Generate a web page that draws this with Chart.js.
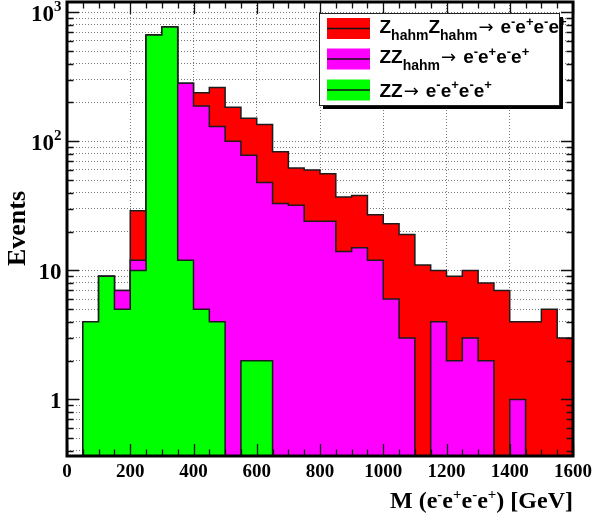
<!DOCTYPE html>
<html>
<head>
<meta charset="utf-8">
<script src="https://cdn.jsdelivr.net/npm/chart.js@4.4.1/dist/chart.umd.min.js"></script>
<style>
  html, body { margin: 0; padding: 0; background: #fff; }
  #wrap { width: 592px; height: 520px; }
</style>
</head>
<body>
<div id="wrap"><canvas id="cv" width="592" height="520"></canvas></div>
<script>
/***** data *****/
// 4-electron invariant mass, 50 GeV bins from 0 to 1600
const BIN_LOW = [
  0, 50, 100, 150, 200, 250, 300, 350, 400, 450, 500, 550, 600, 650, 700, 750,
  800, 850, 900, 950, 1000, 1050, 1100, 1150, 1200, 1250, 1300, 1350, 1400, 1450, 1500, 1550
];
const BIN_WIDTH = 50;

// events per bin, one array per process (stacked bottom -> top: zz, zzHahm, zhahmZhahm)
const zzCounts = [
  0, 4, 9, 5, 10, 667, 769, 12, 5, 4, 0, 2, 2, 0, 0, 0,
  0, 0, 0, 0, 0, 0, 0, 0, 0, 0, 0, 0, 0, 0, 0, 0
];
const zzHahmCounts = [
  0, 0, 0, 2, 2, 0, 0, 270, 183, 126, 100, 76, 46, 33, 32, 24,
  24, 14, 15, 12, 6, 3, 0, 4, 2, 3, 2, 0, 1, 0, 0, 0
];
const zhahmZhahmCounts = [
  0, 0, 0, 0, 17, 0, 0, 0, 50, 131, 84, 73, 87, 50, 30, 36,
  32, 23, 23, 15, 17, 16, 11, 6, 7, 7, 6, 7, 3, 4, 5, 3
];

const X_TICKS = [0, 200, 400, 600, 800, 1000, 1200, 1400, 1600];
const Y_DECADES = [1, 10, 100, 1000];
const Y_LABELS = [
  { base: "1" }, { base: "10" }, { base: "10", exp: "2" }, { base: "10", exp: "3" }
];
const Y_MIN = 0.365, Y_MAX = 1200;

const LEGEND_LABELS = [
  { color: "#ff0000", runs: [["Z"], ["hahm", "sub"], ["Z"], ["hahm", "sub"]] },
  { color: "#ff00ff", runs: [["ZZ"], ["hahm", "sub"]] },
  { color: "#00ff00", runs: [["ZZ"]] }
];

/***** helpers *****/
const SERIF = '"Liberation Serif", "Times New Roman", serif';
const SANS = '"Liberation Sans", Arial, sans-serif';
const FLOOR = 1e-3; // empty bins drop below the axis

function stepPoints(counts){
  const pts = BIN_LOW.map((x, i) => ({ x, y: counts[i] > 0 ? counts[i] : FLOOR }));
  pts.push({ x: BIN_LOW[BIN_LOW.length - 1] + BIN_WIDTH, y: pts[pts.length - 1].y });
  return pts;
}

// THStack style: each layer is drawn as the running sum
const stackZZ = zzCounts.slice();
const stackZZHahm = stackZZ.map((v, i) => v + zzHahmCounts[i]);
const stackAll = stackZZHahm.map((v, i) => v + zhahmZhahmCounts[i]);

// minor + major positions for the log axis
const yGrid = [];
Y_DECADES.concat([0.1]).sort((a, b) => a - b).forEach(d => {
  for (let k = 1; k <= 9; k++){
    const v = +(d * k).toPrecision(3);
    if (v >= Y_MIN && v <= Y_MAX) yGrid.push(v);
  }
});

// draw a list of [text, font, dy] pieces from x; returns the end x
function drawRuns(ctx, pieces, x, y, measureOnly){
  let cx = x;
  pieces.forEach(([text, font, dy]) => {
    ctx.font = font;
    if (!measureOnly) ctx.fillText(text, cx, y + (dy || 0));
    cx += ctx.measureText(text).width;
  });
  return cx;
}

function electrons(font, supFont, dy){
  const out = [];
  ["-", "+", "-", "+"].forEach(s => { out.push(["e", font, 0]); out.push([s, supFont, dy]); });
  return out;
}

/***** root-like frame, ticks, labels, legend *****/
const rootStyle = {
  id: "rootStyle",
  afterDatasetsDraw(chart){
    const { ctx, chartArea: a, scales: { x, y } } = chart;
    ctx.save();

    // ticks inside the frame on all four sides
    ctx.strokeStyle = "#111";
    ctx.lineWidth = 1.3;
    ctx.beginPath();
    BIN_LOW.concat([BIN_LOW[BIN_LOW.length - 1] + BIN_WIDTH]).forEach(v => {
      const px = Math.round(x.getPixelForValue(v)) + 0.5;
      const len = X_TICKS.includes(v) ? 12 : 6.5;
      ctx.moveTo(px, a.bottom); ctx.lineTo(px, a.bottom - len);
      ctx.moveTo(px, a.top); ctx.lineTo(px, a.top + len);
    });
    yGrid.forEach(v => {
      const py = Math.round(y.getPixelForValue(v)) + 0.5;
      const len = Y_DECADES.includes(v) ? 12 : 6.5;
      ctx.moveTo(a.left, py); ctx.lineTo(a.left + len, py);
      ctx.moveTo(a.right, py); ctx.lineTo(a.right - len, py);
    });
    ctx.stroke();

    // frame
    ctx.lineWidth = 3;
    ctx.strokeStyle = "#000";
    ctx.strokeRect(a.left, a.top, a.right - a.left, a.bottom - a.top);

    // y labels (10^n with raised exponent)
    ctx.fillStyle = "#000";
    ctx.textBaseline = "alphabetic";
    ctx.textAlign = "left";
    const mainF = `bold 23px ${SERIF}`, expF = `bold 15px ${SERIF}`;
    Y_DECADES.forEach((d, i) => {
      const lab = Y_LABELS[i];
      const pieces = [[lab.base, mainF, 0]];
      if (lab.exp) pieces.push([lab.exp, expF, -9.5]);
      const base = y.getPixelForValue(d) + 8.5;
      const w = drawRuns(ctx, pieces, 0, base, true);
      drawRuns(ctx, pieces, 61.5 - w, base);
    });

    // y title
    ctx.save();
    ctx.translate(25, 228.5);
    ctx.rotate(-Math.PI / 2);
    ctx.textAlign = "center";
    ctx.font = `bold 26px ${SERIF}`;
    ctx.fillText("Events", 0, 0);
    ctx.restore();

    // x title, right aligned with the frame
    const tF = `bold 24px ${SERIF}`, tS = `bold 15px ${SERIF}`;
    const title = [["M (", tF, 0]].concat(electrons(tF, tS, -9), [[") [GeV]", tF, 0]]);
    const tw = drawRuns(ctx, title, 0, 0, true);
    drawRuns(ctx, title, a.right - tw, 508);

    // legend box with shadow
    const lx = 319, ly = 13, lw = 240, lh = 92;
    ctx.fillStyle = "#000";
    ctx.fillRect(lx + 4, ly + 4, lw, lh);
    ctx.fillStyle = "#fff";
    ctx.fillRect(lx, ly, lw, lh);
    ctx.lineWidth = 1;
    ctx.strokeStyle = "#222";
    ctx.strokeRect(lx + 0.5, ly + 0.5, lw, lh);

    const baselines = [33, 63.3, 96.5];
    const swatchTop = [18, 48.5, 79.5];
    const mF = `bold 19px ${SANS}`, sF = `bold 14px ${SANS}`, pF = `bold 13px ${SANS}`;
    const arrowF = `18px "DejaVu Sans", ${SANS}`;
    LEGEND_LABELS.forEach((ent, i) => {
      ctx.fillStyle = ent.color;
      ctx.fillRect(327, swatchTop[i], 43, 21);
      ctx.strokeStyle = "#111";
      ctx.lineWidth = 1.5;
      ctx.beginPath();
      ctx.moveTo(327, swatchTop[i] + 10.5);
      ctx.lineTo(370, swatchTop[i] + 10.5);
      ctx.stroke();

      ctx.fillStyle = "#000";
      const pieces = ent.runs.map(([t, kind]) => kind === "sub" ? [t, sF, 6.5] : [t, mF, 0]);
      let cx = drawRuns(ctx, pieces, 379.5, baselines[i]);
      cx = drawRuns(ctx, [["\u2192", arrowF, 0]], cx + 1, baselines[i]);
      drawRuns(ctx, electrons(mF, pF, -7.5), cx + 7, baselines[i]);
    });

    ctx.restore();
  }
};

/***** chart *****/
function layer(label, counts, color){
  return {
    label,
    data: stepPoints(counts),
    stepped: true,
    fill: "origin",
    backgroundColor: color,
    borderColor: "#1c1c1c",
    borderWidth: 1.5,
    pointRadius: 0,
    tension: 0
  };
}

new Chart(document.getElementById("cv"), {
  type: "line",
  data: {
    // first dataset is painted last, so the bottom of the stack goes first
    datasets: [
      layer("ZZ", stackZZ, "#00ff00"),
      layer("ZZhahm", stackZZHahm, "#ff00ff"),
      layer("ZhahmZhahm", stackAll, "#ff0000")
    ]
  },
  options: {
    responsive: false,
    animation: false,
    layout: { padding: { left: 0, right: 19, top: 2, bottom: 0 } },
    plugins: { legend: { display: false }, tooltip: { enabled: false } },
    scales: {
      x: {
        type: "linear",
        min: 0, max: 1600,
        // fixed height, and no extra room asked for the end labels
        afterFit: (s) => { s.height = 64; s.paddingLeft = 0; s.paddingRight = 0; },
        afterBuildTicks: (s) => { s.ticks = X_TICKS.map(v => ({ value: v })); },
        grid: { color: "#777", lineWidth: 1, drawTicks: false },
        border: { display: false, dash: [1, 2] },
        ticks: {
          autoSkip: false, maxRotation: 0, padding: 5, color: "#000",
          font: { family: "Liberation Serif", weight: "bold", size: 19 },
          callback: (v) => String(v)
        }
      },
      y: {
        type: "logarithmic",
        min: Y_MIN, max: Y_MAX,
        afterFit: (s) => { s.width = 67; },
        afterBuildTicks: (s) => { s.ticks = yGrid.map(v => ({ value: v })); },
        grid: { color: "#777", lineWidth: 1, drawTicks: false },
        border: { display: false, dash: [1, 2] },
        ticks: { display: false }
      }
    }
  },
  plugins: [rootStyle]
});
</script>
</body>
</html>
